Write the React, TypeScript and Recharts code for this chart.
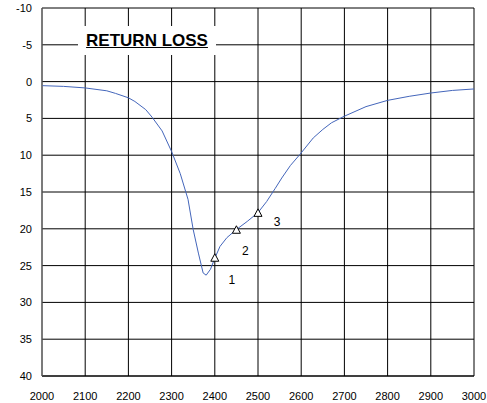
import {
  ComposedChart,
  Line,
  Scatter,
  XAxis,
  YAxis,
  CartesianGrid,
} from "recharts";

const freq = [
  2000, 2050, 2100, 2150, 2170, 2200, 2215, 2240, 2255, 2278, 2300, 2320, 2338,
  2350, 2362, 2373, 2380, 2390, 2400, 2412, 2428, 2450, 2475, 2500, 2520, 2540,
  2555, 2575, 2597, 2628, 2650, 2670, 2700, 2750, 2800, 2850, 2900, 2950, 3000,
];
const returnLoss = [
  0.55, 0.65, 0.86, 1.25, 1.6, 2.2, 2.7, 3.8, 4.85, 6.7, 9.5, 12.5, 16, 20.1,
  23.3, 26, 26.3, 25.5, 24.0, 22.4, 21.2, 20.1, 19.0, 17.8, 16.3, 14.5, 13.1,
  11.4, 9.9, 7.65, 6.5, 5.6, 4.7, 3.4, 2.55, 2.0, 1.55, 1.2, 1.0,
];

const markerFreq = [2400, 2450, 2500];
const markerLoss = [24.0, 20.2, 17.9];
const markerLabels = ["1", "2", "3"];

const xTicks = [2000, 2100, 2200, 2300, 2400, 2500, 2600, 2700, 2800, 2900, 3000];
const yTicks = [-10, -5, 0, 5, 10, 15, 20, 25, 30, 35, 40];

const curve = freq.map((f, i) => ({ f, loss: returnLoss[i] }));
const markers = markerFreq.map((f, i) => ({
  f,
  loss: markerLoss[i],
  label: markerLabels[i],
}));

// where each marker's number sits relative to its triangle
const labelOffset: Record<string, [number, number]> = {
  "1": [17, 22],
  "2": [9, 21],
  "3": [19, 9],
};

const font = "'Liberation Sans', Arial, sans-serif";

function TriangleMarker(props: any) {
  const { cx, cy, payload } = props;
  const [dx, dy] = labelOffset[payload.label] || [10, 10];
  return (
    <g>
      <path
        d={`M${cx},${cy - 4.5} L${cx + 4},${cy + 3} L${cx - 4},${cy + 3} Z`}
        fill="#fff"
        stroke="#000"
        strokeWidth={1}
      />
      <text
        x={cx + dx}
        y={cy + dy}
        textAnchor="middle"
        dominantBaseline="central"
        fontSize={12}
        fontFamily={font}
        fill="#000"
        stroke="none"
      >
        {payload.label}
      </text>
    </g>
  );
}

export default function App() {
  return (
    <div
      style={{
        position: "fixed",
        left: 0,
        top: 0,
        width: 487,
        height: 403,
        background: "#fff",
      }}
    >
      <ComposedChart
        width={487}
        height={403}
        margin={{ top: 8, right: 13, bottom: 0, left: 0 }}
      >
        <CartesianGrid stroke="#000" strokeWidth={1} />
        <XAxis
          type="number"
          dataKey="f"
          domain={[2000, 3000]}
          ticks={xTicks}
          height={27}
          tickLine={false}
          tickSize={6}
          tickMargin={10}
          axisLine={{ stroke: "#000" }}
          tick={{ fontSize: 11, fill: "#000", fontFamily: font }}
          allowDataOverflow
        />
        <YAxis
          type="number"
          dataKey="loss"
          domain={[-10, 40]}
          ticks={yTicks}
          reversed
          width={42}
          tickLine={false}
          tickSize={6}
          tickMargin={4}
          axisLine={{ stroke: "#777" }}
          tick={{ fontSize: 11, fill: "#000", fontFamily: font }}
          interval={0}
          allowDataOverflow
        />
        <Line
          data={curve}
          dataKey="loss"
          type="linear"
          stroke="#4466bb"
          strokeWidth={1}
          dot={false}
          activeDot={false}
          isAnimationActive={false}
        />
        <Scatter
          data={markers}
          dataKey="loss"
          shape={<TriangleMarker />}
          isAnimationActive={false}
        />
      </ComposedChart>
      <div
        style={{
          position: "absolute",
          left: 78,
          top: 26,
          width: 138,
          height: 29,
          lineHeight: "29px",
          background: "#fff",
          textAlign: "center",
          fontFamily: font,
          fontWeight: "bold",
          fontSize: 17,
          textDecoration: "underline",
          color: "#000",
        }}
      >
        RETURN LOSS
      </div>
    </div>
  );
}
